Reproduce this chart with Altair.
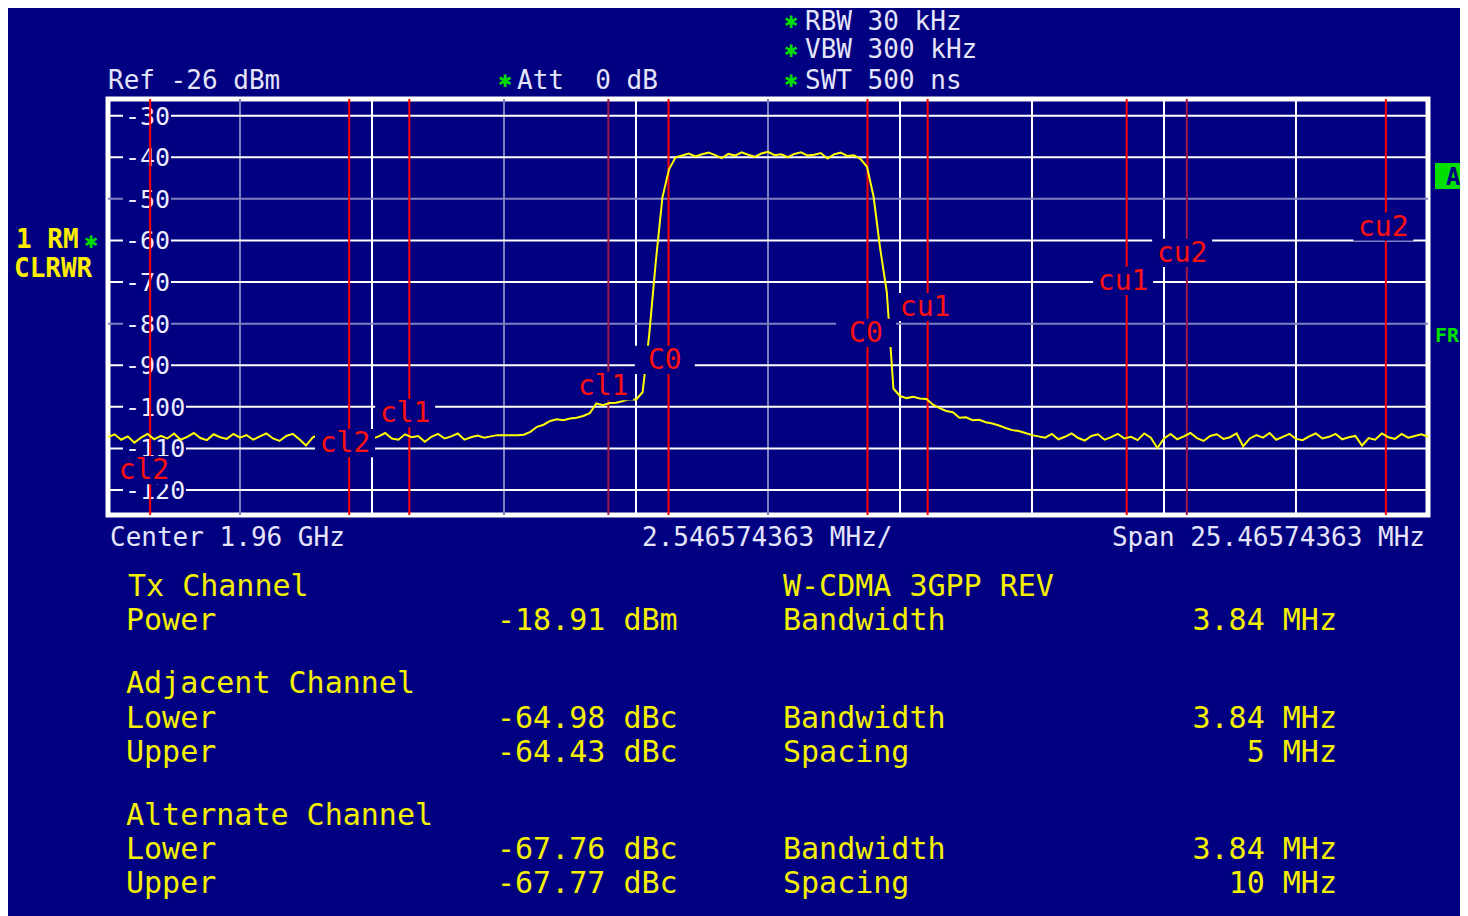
import altair as alt
import pandas as pd
import numpy as np

# ---------------- data ----------------
SPAN_MHZ = 25.46574363
N_POINTS = 201

level_db = [
    # left noise floor
    -107.3, -106.6, -107.9, -107.1, -108.6, -107.4, -106.5, -107.8, -107.0, -107.6,
    -106.4, -107.9, -107.2, -106.3, -107.5, -108.0, -106.6, -107.3, -107.7, -106.5,
    -107.4, -106.8, -107.9, -107.1, -106.4, -107.6, -108.2, -107.0, -106.5, -107.8,
    -109.3, -107.4, -106.6, -107.9, -107.2, -106.4, -107.5, -108.3, -107.0, -106.5,
    -107.7, -107.1, -106.3, -107.6, -107.9, -106.6, -107.3, -107.0, -108.4, -107.2,
    -106.5, -107.6, -107.1, -106.4, -107.9, -107.3, -106.9, -107.4, -107.1,
    -106.8, -106.8, -106.8, -106.8, -106.7, -106.0,
    # lower shoulder
    -104.8, -104.3, -103.4, -103.0, -103.2,
    -102.8, -102.6, -102.2, -101.5, -99.2, -99.6, -99.1, -99.0, -98.6, -98.2,
    -98.3, -96.5, -82.7, -65.1, -49.7, -42.9, -40.0,
    # channel plateau
    -39.6, -39.1, -39.8, -39.3, -38.9, -39.5, -40.2, -39.2, -39.6, -38.8,
    -39.4, -39.9, -39.1, -38.7, -39.5, -39.3, -40.0, -39.2, -38.8, -39.6,
    -39.4, -39.0, -40.3, -39.3, -38.9, -39.7, -39.5, -40.4,
    # falling edge and upper shoulder
    -42.3, -49.5, -62.0, -72.4, -95.6, -97.4, -97.9, -97.6, -98.0, -98.1,
    -99.5, -100.3, -101.0, -101.3, -102.6, -102.5, -103.2, -103.1, -103.7, -104.0,
    -104.5, -105.1, -105.6, -105.8, -106.3, -106.8,
    # right noise floor
    -107.1, -107.4, -106.5, -107.8, -107.2, -106.4, -107.5, -108.1, -107.0, -106.6,
    -107.9, -107.3, -106.5, -107.6, -107.2, -108.0, -106.4, -107.4, -109.9, -107.6,
    -106.5, -107.8, -107.1, -106.3, -107.5, -108.2, -107.0, -106.6, -107.7, -107.3,
    -106.4, -109.5, -107.6, -106.8, -107.4, -106.3, -107.9, -107.2, -106.5, -107.7,
    -108.0, -107.1, -106.4, -107.6, -107.2, -106.5, -107.8, -107.3, -107.0, -109.3,
    -107.5, -107.9, -106.4, -107.3, -107.7, -106.5, -107.4, -107.0, -106.6, -107.2,
]
assert len(level_db) == N_POINTS

grid_v_mhz = [-10.186, -7.640, -5.093, -2.547, 0.0, 2.547, 5.093, 7.640, 10.186]
grid_v_color = ["#8080c0", "#ffffff", "#8080c0", "#ffffff", "#8080c0",
                "#ffffff", "#ffffff", "#ffffff", "#ffffff"]
grid_h_db = [-30, -40, -50, -60, -70, -80, -90, -100, -110, -120]
grid_h_color = ["#ffffff", "#ffffff", "#8080c0", "#ffffff", "#ffffff",
                "#8080c0", "#ffffff", "#ffffff", "#ffffff", "#ffffff"]
y_tick_text = ["-30", "-40", "-50", "-60", "-70", "-80", "-90", "-100", "-110", "-120"]

marker_mhz = [-11.92, -8.08, -6.92, -3.08, -1.92, 1.92, 3.08, 6.92, 8.08, 11.92]
marker_color = ["#ff0000", "#ff0000", "#ff0000", "#a0184a", "#ff0000",
                "#ff0000", "#ff0000", "#ff0000", "#a0184a", "#ff0000"]
label_text = ["cl2", "cl2", "cl1", "cl1", "C0", "C0", "cu1", "cu1", "cu2", "cu2"]
label_mhz = [-12.04, -8.16, -7.00, -3.18, -1.99, 1.89, 3.03, 6.85, 7.99, 11.87]
label_db = [-115.2, -108.7, -101.5, -95.0, -88.7, -82.2, -76.0, -69.7, -63.0, -56.7]

NB = "\u00a0"
header_text = ["Ref -26 dBm", "Att" + NB + NB + "0 dB", "RBW 30 kHz", "VBW 300 kHz", "SWT 500 ns"]
footer_text = ["Center 1.96 GHz", "2.546574363 MHz/", "Span 25.46574363 MHz"]

table_label = ["Tx Channel", "Power", "Adjacent Channel", "Lower", "Upper",
               "Alternate Channel", "Lower", "Upper"]
table_value = ["-18.91 dBm", "-64.98 dBc", "-64.43 dBc", "-67.76 dBc", "-67.77 dBc"]
table_param = ["W-CDMA 3GPP REV", "Bandwidth", "Bandwidth", "Spacing", "Bandwidth", "Spacing"]
table_param_value = ["3.84 MHz", "3.84 MHz", "5 MHz", "3.84 MHz", "10 MHz"]

# ---------------- layout / style ----------------
NAVY = "#000080"
MONO = "DejaVu Sans Mono"
PX0, PY0 = 108, 99          # page position of plot-area origin
W, H = 1320, 416

header_pos = [(108, 89), (517, 89), (805, 30), (805, 58), (805, 89)]
footer_pos = [(110, 546, "left"), (642, 546, "left"), (1425, 546, "right")]
table_label_y = [596, 630, 693, 728, 762, 825, 859, 893]
table_value_y = [630, 728, 762, 859, 893]
table_param_y = [596, 630, 728, 762, 859, 893]
table_param_value_y = [630, 728, 762, 859, 893]
star_pos = [(505, 80), (791, 21), (791, 50), (791, 80), (91, 241)]

xs = alt.Scale(domain=[-SPAN_MHZ / 2, SPAN_MHZ / 2], nice=False, zero=False)
ys = alt.Scale(domain=[-126, -26], nice=False, zero=False)
ONE = alt.Data(values=[{"k": 0}])


def ptext(s, px, py, size, color, align="left", baseline="alphabetic", weight="normal"):
    return alt.Chart(ONE).mark_text(
        text=s, fontSize=size, color=color, align=align, baseline=baseline,
        fontWeight=weight, font=MONO,
    ).encode(x=alt.value(px - PX0), y=alt.value(py - PY0))


trace = pd.DataFrame({"f": np.linspace(-SPAN_MHZ / 2, SPAN_MHZ / 2, N_POINTS), "db": level_db})
gv = pd.DataFrame({"f": grid_v_mhz, "c": grid_v_color})
gh = pd.DataFrame({"db": grid_h_db, "c": grid_h_color, "t": y_tick_text})
gh["lo"] = gh["db"] - 2.4
gh["hi"] = gh["db"] + 2.4
mk = pd.DataFrame({"f": marker_mhz, "c": marker_color})
lb = pd.DataFrame({"f": label_mhz, "db": label_db, "t": label_text})

layers = []
layers.append(alt.Chart(gv).mark_rule(strokeWidth=2).encode(
    x=alt.X("f:Q", scale=xs, axis=None), color=alt.Color("c:N", scale=None)))
layers.append(alt.Chart(gh).mark_rule(strokeWidth=2).encode(
    y=alt.Y("db:Q", scale=ys, axis=None), color=alt.Color("c:N", scale=None)))
# y tick labels with background boxes
short = gh[gh["t"].str.len() == 3]
long_ = gh[gh["t"].str.len() == 4]
layers.append(alt.Chart(short).mark_rect(color=NAVY).encode(
    x=alt.value(15), x2=alt.value(63), y=alt.Y("lo:Q", scale=ys, axis=None), y2="hi:Q"))
layers.append(alt.Chart(long_).mark_rect(color=NAVY).encode(
    x=alt.value(15), x2=alt.value(78), y=alt.Y("lo:Q", scale=ys, axis=None), y2="hi:Q"))
layers.append(alt.Chart(gh).mark_text(
    font=MONO, fontSize=25, color="#ececff", align="left", baseline="middle", dy=1).encode(
    x=alt.value(17), y=alt.Y("db:Q", scale=ys, axis=None), text="t:N"))
# channel markers
layers.append(alt.Chart(mk).mark_rule(strokeWidth=2).encode(
    x=alt.X("f:Q", scale=xs, axis=None), color=alt.Color("c:N", scale=None)))
# trace
layers.append(alt.Chart(trace).mark_line(color="#ffff00", strokeWidth=2).encode(
    x=alt.X("f:Q", scale=xs, axis=None), y=alt.Y("db:Q", scale=ys, axis=None)))
# marker labels
layers.append(alt.Chart(lb).mark_point(
    shape="M-1,-0.47L1,-0.47L1,0.47L-1,0.47Z", size=3600, filled=True,
    color=NAVY, opacity=1, strokeWidth=0).encode(
    x=alt.X("f:Q", scale=xs, axis=None), y=alt.Y("db:Q", scale=ys, axis=None)))
layers.append(alt.Chart(lb).mark_text(
    font=MONO, fontSize=28, color="#ff1010", align="center", baseline="middle", dy=1).encode(
    x=alt.X("f:Q", scale=xs, axis=None), y=alt.Y("db:Q", scale=ys, axis=None), text="t:N"))

# header / footer
for s, (px, py) in zip(header_text, header_pos):
    layers.append(ptext(s, px, py, 26, "#e4e4fa"))
for s, (px, py, al) in zip(footer_text, footer_pos):
    layers.append(ptext(s, px, py, 26, "#e4e4fa", align=al))
for (px, py) in star_pos:
    layers.append(ptext("\u2731", px, py, 22, "#00dd00", align="center", baseline="middle", weight="bold"))

# trace info on left
layers.append(ptext("1 RM", 16, 248, 26, "#ffee00", weight="bold"))
layers.append(ptext("CLRWR", 14, 277, 26, "#ffee00", weight="bold"))
# right side indicators
layers.append(alt.Chart(ONE).mark_rect(color="#00e000").encode(
    x=alt.value(1435 - PX0), x2=alt.value(1480 - PX0), y=alt.value(163 - PY0), y2=alt.value(189 - PY0)))
layers.append(ptext("A", 1446, 185, 24, NAVY, weight="bold"))
layers.append(ptext("FR", 1435, 342, 20, "#00e000", weight="bold"))

# table
YEL = "#f4f000"
for s, py in zip(table_label, table_label_y):
    layers.append(ptext(s, 126 if s != "Tx Channel" else 128, py, 30, YEL))
for s, py in zip(table_value, table_value_y):
    layers.append(ptext(s, 497, py, 30, YEL))
for s, py in zip(table_param, table_param_y):
    layers.append(ptext(s, 783, py, 30, YEL))
for s, py in zip(table_param_value, table_param_value_y):
    layers.append(ptext(s, 1337, py, 30, YEL, align="right"))

chart = alt.layer(*layers).properties(
    width=W, height=H,
    padding={"left": 100, "top": 91, "right": 32, "bottom": 401},
    autosize=alt.AutoSizeParams(type="none"),
    background=NAVY,
).configure_view(stroke="#ffffff", strokeWidth=5)

chart.save("out.html", embed_options={"renderer": "svg", "actions": False})
